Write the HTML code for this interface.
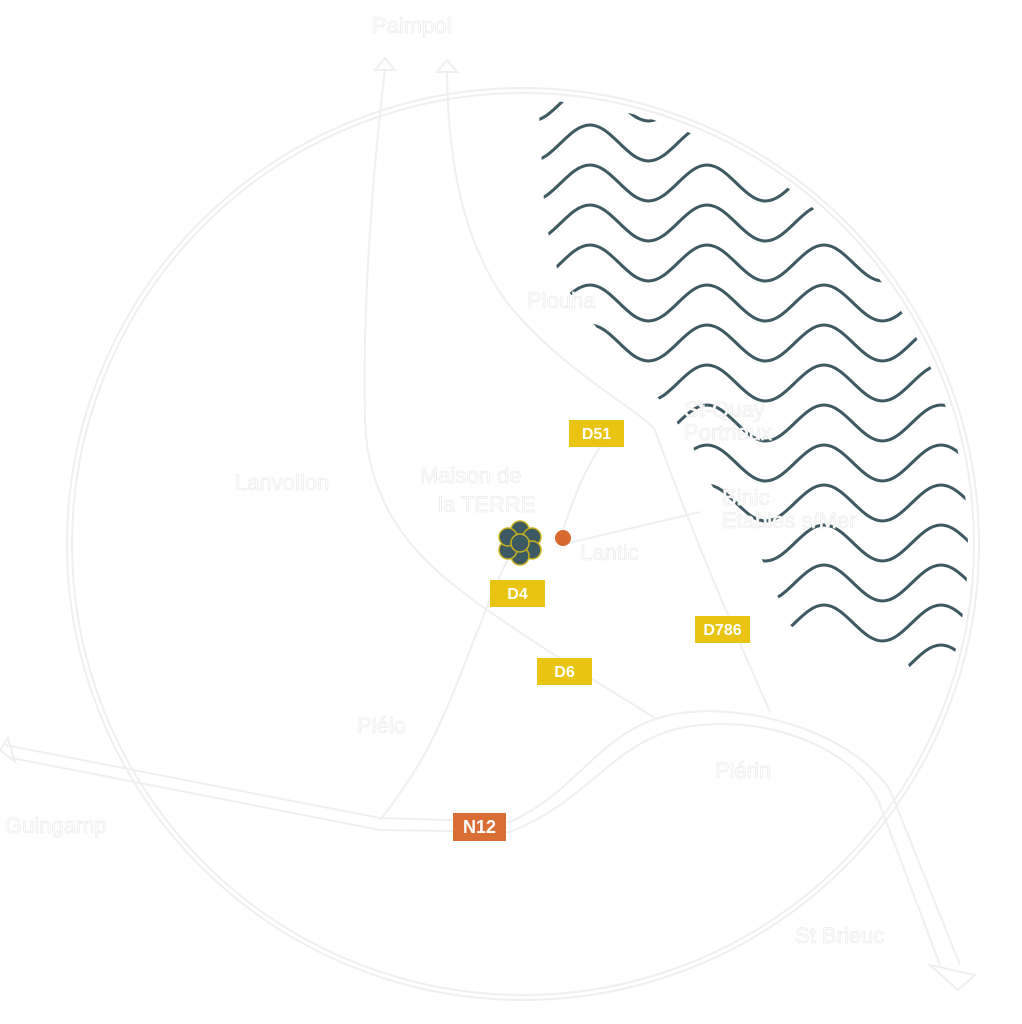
<!DOCTYPE html>
<html><head><meta charset="utf-8"><style>
html,body{margin:0;padding:0;background:#fff;}
svg{display:block;}
.lbl{font-family:"Liberation Sans",sans-serif;font-size:22px;fill:#fff;stroke:#ececec;stroke-width:0.8;}
.tag{font-family:"Liberation Sans",sans-serif;font-size:16px;font-weight:bold;fill:#fff;text-anchor:middle;}
.road{fill:none;stroke:#efefef;stroke-width:2;}
</style></head><body>
<svg id="s" width="1022" height="1024" viewBox="0 0 1022 1024" xmlns="http://www.w3.org/2000/svg">
<defs>
<clipPath id="cc"><circle cx="522" cy="546" r="446"/></clipPath>
<clipPath id="cp"><polygon points="536,60 540,130 545,220 560,280 590,320 625,360 660,400 690,440 705,475 725,505 760,555 790,625 810,642 900,650 910,668 1022,668 1022,60"/></clipPath>
</defs>
<!-- faint roads -->
<circle cx="523" cy="544" r="456" class="road"/>
<circle cx="523" cy="544" r="451" class="road"/>
<path class="road" d="M385,70 C375,150 362,300 365,420 C368,520 430,570 490,612 C560,660 610,690 655,718"/>
<path class="road" d="M447,72 C448,180 470,250 505,300 C560,370 640,410 655,430 C680,500 720,600 770,712"/>
<path class="road" d="M5,745 L380,818 L510,822 C580,790 600,730 670,715 C740,700 850,730 890,790 L960,965"/>
<path class="road" d="M12,758 L380,830 L510,832 C590,800 610,745 680,728 C760,712 850,745 878,800 L940,965"/>
<path class="road" d="M380,820 C420,770 440,730 470,650 C490,600 500,570 515,548"/>
<path class="road" d="M560,545 L700,512"/>
<path class="road" d="M560,540 C575,490 590,460 605,440"/>
<path class="road" d="M375,70 L385,58 L395,70 Z M437,72 L447,60 L457,72 Z M8,738 L0,750 L15,762 Z M930,965 L975,975 L958,990 Z"/>
<!-- waves -->
<g clip-path="url(#cc)"><g clip-path="url(#cp)" id="waves" fill="none" stroke="#3d5a63" stroke-width="3" stroke-linecap="round"></g></g>
<!-- labels -->
<text class="lbl" x="372" y="33">Paimpol</text>
<text class="lbl" x="527" y="308">Plouha</text>
<text class="lbl" x="684" y="417">St-Quay</text>
<text class="lbl" x="684" y="440">Portrieux</text>
<text class="lbl" x="235" y="490">Lanvollon</text>
<text class="lbl" x="420" y="483">Maison de</text>
<text class="lbl" x="438" y="512">la TERRE</text>
<text class="lbl" x="580" y="560">Lantic</text>
<text class="lbl" x="722" y="505">Binic</text>
<text class="lbl" x="722" y="528">Etables s/Mer</text>
<text class="lbl" x="357" y="733">Plélo</text>
<text class="lbl" x="715" y="778">Plérin</text>
<text class="lbl" x="5" y="833">Guingamp</text>
<text class="lbl" x="795" y="943">St Brieuc</text>
<!-- tags -->
<rect x="569" y="420" width="55" height="27" fill="#e9c511"/><text class="tag" x="596.5" y="439">D51</text>
<rect x="490" y="580" width="55" height="27" fill="#e9c511"/><text class="tag" x="517.5" y="599">D4</text>
<rect x="695" y="616" width="55" height="27" fill="#e9c511"/><text class="tag" x="722.5" y="635">D786</text>
<rect x="537" y="658" width="55" height="27" fill="#e9c511"/><text class="tag" x="564.5" y="677">D6</text>
<rect x="453" y="813" width="53" height="28" fill="#d86e34"/><text class="tag" x="479.5" y="833" style="font-size:18px">N12</text>
<!-- markers -->
<circle cx="563" cy="538" r="8" fill="#d8692f"/>
<g transform="translate(520,543)">
<circle r="16" fill="#3d5a63"/>
<g fill="#3d5a63" stroke="#c9b21a" stroke-width="1.5">
<circle cx="0" cy="-13" r="9"/><circle cx="12" cy="-6" r="9"/><circle cx="12" cy="7" r="9"/><circle cx="0" cy="13" r="9"/><circle cx="-12" cy="7" r="9"/><circle cx="-12" cy="-6" r="9"/>
</g>
<circle r="9" fill="#3d5a63" stroke="#c9b21a" stroke-width="1.5"/>
</g>
</svg>
<script>
(function(){
var g=document.getElementById('waves');
var P=117,h=58.5,A=36,c=21.3;
for(var k=-2;k<=14;k++){
  var y=125+40*k;
  var x=590-P*2;
  var d='M'+x+','+y+' C'+(x+c)+','+y+' '+(x+h-c)+','+(y+A)+' '+(x+h)+','+(y+A);
  var up=true;var cx=x+h;
  while(cx<1060){
    var ny=up?y:y+A;
    d+=' S'+(cx+h-c)+','+ny+' '+(cx+h)+','+ny;
    cx+=h;up=!up;
  }
  var p=document.createElementNS('http://www.w3.org/2000/svg','path');
  p.setAttribute('d',d);g.appendChild(p);
}
})();
</script>
</body></html>
